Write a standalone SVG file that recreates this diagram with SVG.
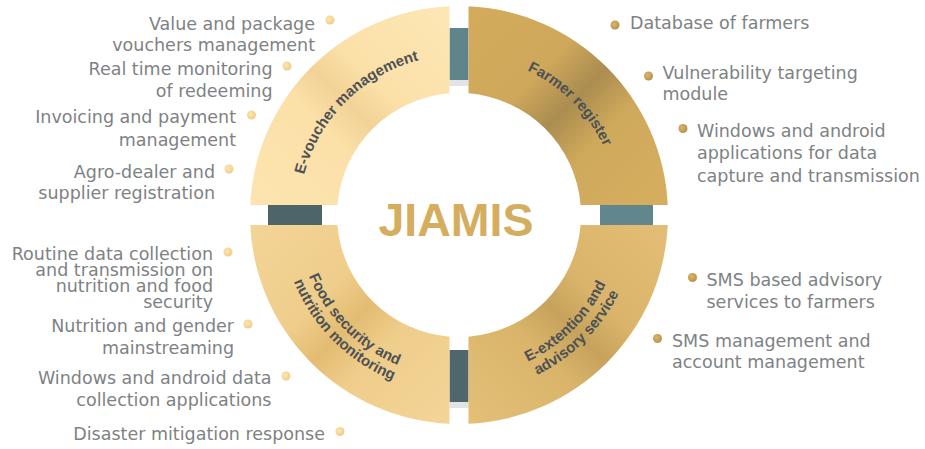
<svg xmlns="http://www.w3.org/2000/svg" width="925" height="449" viewBox="0 0 925 449">
<style>
.side{font-family:"DejaVu Sans","Liberation Sans",sans-serif;font-size:17.5px;fill:#7e8284}
.lbl{font-family:"Liberation Sans",Arial,sans-serif;font-size:15px;font-weight:bold;fill:#4c5156}
.end{text-anchor:end}
.dotL{fill:url(#gDotL)}
.dotR{fill:url(#gDotR)}
</style>
<defs>
<linearGradient id="gTL" gradientUnits="userSpaceOnUse" x1="250" y1="205" x2="449.5" y2="6">
<stop offset="0" stop-color="#fde4ae"/><stop offset="0.38" stop-color="#fbe0a8"/><stop offset="0.5" stop-color="#f2d296"/><stop offset="0.62" stop-color="#fbe0a8"/><stop offset="1" stop-color="#fde7b5"/>
</linearGradient>
<linearGradient id="gTR" gradientUnits="userSpaceOnUse" x1="468.5" y1="6" x2="668" y2="205">
<stop offset="0" stop-color="#d4ab5c"/><stop offset="0.34" stop-color="#cfa85b"/><stop offset="0.5" stop-color="#ab8d50"/><stop offset="0.66" stop-color="#cfa95c"/><stop offset="1" stop-color="#d6ae60"/>
</linearGradient>
<linearGradient id="gBL" gradientUnits="userSpaceOnUse" x1="250" y1="225" x2="449.5" y2="424">
<stop offset="0" stop-color="#f3d597"/><stop offset="0.36" stop-color="#efcd8b"/><stop offset="0.5" stop-color="#e3bc72"/><stop offset="0.64" stop-color="#efcd8b"/><stop offset="1" stop-color="#f4d598"/>
</linearGradient>
<linearGradient id="gBR" gradientUnits="userSpaceOnUse" x1="468.5" y1="424" x2="668" y2="225">
<stop offset="0" stop-color="#e4bf78"/><stop offset="0.36" stop-color="#d9b46a"/><stop offset="0.5" stop-color="#c6a25c"/><stop offset="0.64" stop-color="#d9b46a"/><stop offset="1" stop-color="#e4be76"/>
</linearGradient>
<linearGradient id="gLineL" x1="0" y1="0" x2="1" y2="0">
<stop offset="0" stop-color="#eef3f5"/><stop offset="1" stop-color="#b4b7bb"/>
</linearGradient>
<linearGradient id="gLineR" x1="0" y1="0" x2="1" y2="0">
<stop offset="0" stop-color="#b6b9bd"/><stop offset="1" stop-color="#e6f5f7"/>
</linearGradient>
<radialGradient id="gDotL" cx="0.4" cy="0.4" r="0.6">
<stop offset="0" stop-color="#fce6b6"/><stop offset="1" stop-color="#f1cd87"/>
</radialGradient>
<radialGradient id="gDotR" cx="0.4" cy="0.4" r="0.6">
<stop offset="0" stop-color="#dcb86b"/><stop offset="1" stop-color="#b99249"/>
</radialGradient>
<path id="tpEV" d="M299,215 A160,160 0 0 1 459,55"/>
<path id="tpFR" d="M459,55 A160,160 0 0 1 619,215"/>
<path id="tpFS1" d="M297,215 A162,162 0 0 0 459,377"/>
<path id="tpFS2" d="M281,215 A178,178 0 0 0 459,393"/>
<path id="tpEE1" d="M459,377 A162,162 0 0 0 621,215"/>
<path id="tpEE2" d="M459,393 A178,178 0 0 0 637,215"/>
</defs>

<g id="connectors">
<line x1="65" y1="216" x2="228" y2="216" stroke="url(#gLineL)" stroke-width="4" stroke-linecap="round"/>
<line x1="690" y1="215" x2="854" y2="215" stroke="url(#gLineR)" stroke-width="4" stroke-linecap="round"/>
<rect x="449.5" y="80" width="19" height="6" fill="#e2e3e5"/>
<rect x="449.5" y="28" width="19" height="52" fill="#60848b"/>
<rect x="449.5" y="402" width="19" height="6" fill="#e2e3e5"/>
<rect x="449.5" y="350" width="19" height="52" fill="#4f676c"/>
<rect x="268" y="205" width="54" height="20" fill="#4d6468"/>
<rect x="600" y="205" width="53" height="20" fill="#62868e"/>
</g>

<g id="evoucher">
<path d="M449.5,6.22 L449.5,93.37 A122,122 0 0 0 337.41,205 L250.24,205 A209,209 0 0 1 449.5,6.22 Z" fill="url(#gTL)"/>
<text class="lbl"><textPath href="#tpEV" startOffset="50%" text-anchor="middle">E-voucher management</textPath></text>
</g>

<g id="farmer-register">
<path d="M468.5,6.22 A209,209 0 0 1 667.76,205 L580.59,205 A122,122 0 0 0 468.5,93.37 Z" fill="url(#gTR)"/>
<text class="lbl"><textPath href="#tpFR" startOffset="50%" text-anchor="middle">Farmer register</textPath></text>
</g>

<g id="food-security">
<path d="M449.5,423.78 A209,209 0 0 1 250.24,225 L337.41,225 A122,122 0 0 0 449.5,336.63 Z" fill="url(#gBL)"/>
<text class="lbl"><textPath href="#tpFS1" startOffset="50%" text-anchor="middle">Food security and</textPath></text>
<text class="lbl"><textPath href="#tpFS2" startOffset="50%" text-anchor="middle">nutrition monitoring</textPath></text>
</g>

<g id="e-extention">
<path d="M667.76,225 A209,209 0 0 1 468.5,423.78 L468.5,336.63 A122,122 0 0 0 580.59,225 Z" fill="url(#gBR)"/>
<text class="lbl"><textPath href="#tpEE1" startOffset="50%" text-anchor="middle">E-extention and</textPath></text>
<text class="lbl"><textPath href="#tpEE2" startOffset="50%" text-anchor="middle">advisory service</textPath></text>
</g>

<g id="jiamis">
<text x="456" y="236" text-anchor="middle" font-family="Liberation Sans,Arial,sans-serif" font-weight="bold" font-size="46.5" fill="#d5ad5e">JIAMIS</text>
</g>

<g id="left-items">
<circle class="dotL" cx="330" cy="20" r="4.5"/>
<text class="side end"><tspan x="315" y="30">Value and package</tspan><tspan x="315" y="51">vouchers management</tspan></text>
<circle class="dotL" cx="287" cy="66" r="4.5"/>
<text class="side end"><tspan x="272.5" y="75">Real time monitoring</tspan><tspan x="272.5" y="96.5">of redeeming</tspan></text>
<circle class="dotL" cx="251.5" cy="115" r="4.5"/>
<text class="side end"><tspan x="236" y="123">Invoicing and payment</tspan><tspan x="236" y="145.5">management</tspan></text>
<circle class="dotL" cx="229" cy="169" r="4.5"/>
<text class="side end"><tspan x="215" y="177.5">Agro-dealer and</tspan><tspan x="215" y="199">supplier registration</tspan></text>
<circle class="dotL" cx="228" cy="252" r="4.5"/>
<text class="side end"><tspan x="213" y="260">Routine data collection</tspan><tspan x="213" y="276">and transmission on</tspan><tspan x="213" y="291.5">nutrition and food</tspan><tspan x="213" y="308">security</tspan></text>
<circle class="dotL" cx="248" cy="324" r="4.5"/>
<text class="side end"><tspan x="234" y="332">Nutrition and gender</tspan><tspan x="234" y="354">mainstreaming</tspan></text>
<circle class="dotL" cx="286" cy="376" r="4.5"/>
<text class="side end"><tspan x="271.5" y="384">Windows and android data</tspan><tspan x="271.5" y="406">collection applications</tspan></text>
<circle class="dotL" cx="340" cy="431.5" r="4.5"/>
<text class="side end"><tspan x="325" y="440">Disaster mitigation response</tspan></text>
</g>

<g id="right-items">
<circle class="dotR" cx="615" cy="25" r="4.5"/>
<text class="side"><tspan x="630" y="28.5">Database of farmers</tspan></text>
<circle class="dotR" cx="648.5" cy="76" r="4.5"/>
<text class="side"><tspan x="662.5" y="79">Vulnerability targeting</tspan><tspan x="662.5" y="100">module</tspan></text>
<circle class="dotR" cx="683" cy="128.5" r="4.5"/>
<text class="side"><tspan x="697" y="136.5">Windows and android</tspan><tspan x="697" y="159">applications for data</tspan><tspan x="697" y="181.5">capture and transmission</tspan></text>
<circle class="dotR" cx="692.5" cy="277.5" r="4.5"/>
<text class="side"><tspan x="706.5" y="286">SMS based advisory</tspan><tspan x="706.5" y="308">services to farmers</tspan></text>
<circle class="dotR" cx="657.5" cy="338.5" r="4.5"/>
<text class="side"><tspan x="672" y="346.5">SMS management and</tspan><tspan x="672" y="368">account management</tspan></text>
</g>
</svg>
